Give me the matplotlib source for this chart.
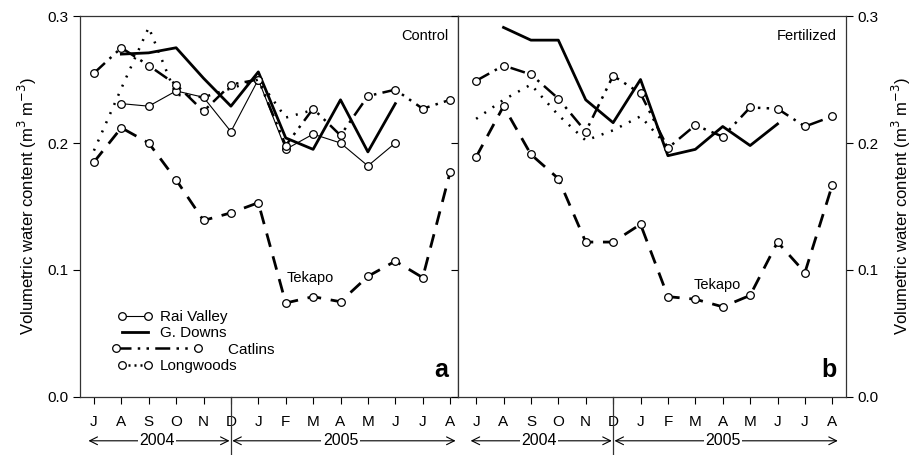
import numpy as np
import matplotlib
matplotlib.use('Agg')
import matplotlib.pyplot as plt
from matplotlib.lines import Line2D
from matplotlib.legend_handler import HandlerLine2D
from matplotlib.transforms import blended_transform_factory

plt.rcParams['font.family'] = ['Liberation Sans', 'DejaVu Sans']

# meses jul/2004 - ago/2005
meses = ['J', 'A', 'S', 'O', 'N', 'D', 'J', 'F', 'M', 'A', 'M', 'J', 'J', 'A']
nan = np.nan

# Control
rai_c = [nan, 0.231, 0.229, 0.241, 0.236, 0.209, 0.250, 0.195, 0.207, 0.200, 0.182, 0.200, nan, nan]
gdowns_c = [nan, 0.270, 0.271, 0.275, 0.251, 0.229, 0.256, 0.204, 0.195, 0.234, 0.193, 0.231, nan, nan]
catlins_c = [0.255, 0.275, 0.261, 0.246, 0.225, 0.246, 0.250, 0.198, 0.227, 0.206, 0.237, 0.242, 0.227, 0.234]
longwoods_c = [0.194, 0.243, 0.291, 0.238, 0.236, 0.243, 0.250, 0.220, 0.226, nan, nan, nan, nan, nan]
tekapo_c = [0.185, 0.212, 0.200, 0.171, 0.139, 0.145, 0.153, 0.074, 0.079, 0.075, 0.095, 0.107, 0.094, 0.177]

# Fertilized
gdowns_f = [nan, 0.291, 0.281, 0.281, 0.234, 0.216, 0.250, 0.190, 0.195, 0.213, 0.198, 0.215, nan, nan]
catlins_f = [0.249, 0.261, 0.254, 0.235, 0.209, 0.253, 0.239, 0.196, 0.214, 0.205, 0.228, 0.227, 0.213, 0.221]
longwoods_f = [0.219, 0.234, 0.246, 0.222, 0.202, 0.210, 0.221, 0.197, nan, nan, nan, nan, nan, nan]
tekapo_f = [0.189, 0.229, 0.191, 0.172, 0.122, 0.122, 0.136, 0.079, 0.077, 0.071, 0.080, 0.122, 0.098, 0.167]

x = np.arange(len(meses))

# estilos
circ = dict(marker='o', ms=5.5, mfc='white', mec='black', mew=0.9)
est_rai = dict(color='black', lw=0.8, **circ)
est_gd = dict(color='black', lw=2.0)
est_cat = dict(color='black', lw=1.8, dashes=(6, 2.5, 1, 2.5, 1, 2.5), **circ)
est_long = dict(color='black', lw=1.8, dashes=(0.8, 3.2))
est_tek = dict(color='black', lw=2.0, dashes=(5, 3.5), **circ)


# handle comprido do Catlins na legenda
class HandlerLongo(HandlerLine2D):
    def create_artists(self, legend, orig_handle, xdescent, ydescent, width, height, fontsize, trans):
        return super().create_artists(legend, orig_handle, xdescent + 4, ydescent,
                                      width * 2.6, height, fontsize, trans)


fig = plt.figure(figsize=(9.17, 4.55), dpi=100)
ax1 = fig.add_axes([0.0872, 0.1275, 0.4123, 0.8373])
ax2 = fig.add_axes([0.4995, 0.1275, 0.4231, 0.8373])


def painel(ax, dados, xlim):
    for serie, est in dados:
        ax.plot(x, serie, **est)
    ax.set_xlim(*xlim)
    ax.set_ylim(0, 0.3)
    ax.set_yticks([0.0, 0.1, 0.2, 0.3])
    ax.set_yticklabels(['0.0', '0.1', '0.2', '0.3'])
    ax.set_xticks(x)
    ax.set_xticklabels(meses)
    ax.tick_params(axis='x', direction='out', length=5, pad=8, labelsize=11)
    ax.tick_params(axis='y', direction='out', length=5, labelsize=11)
    for s in ax.spines.values():
        s.set_color('#333333')
        s.set_linewidth(0.9)
    tr = blended_transform_factory(ax.transData, ax.transAxes)
    # separador D
    ax.plot([5, 5], [0, -0.15], transform=tr, color='#333333', lw=0.9, clip_on=False)
    # anos
    yy = -0.115
    ax.annotate('', xy=(-0.2, yy), xytext=(4.95, yy), xycoords=tr, textcoords=tr,
                arrowprops=dict(arrowstyle='<->', color='black', lw=0.8,
                                shrinkA=0, shrinkB=0, mutation_scale=14))
    ax.annotate('', xy=(5.05, yy), xytext=(13.2, yy), xycoords=tr, textcoords=tr,
                arrowprops=dict(arrowstyle='<->', color='black', lw=0.8,
                                shrinkA=0, shrinkB=0, mutation_scale=14))
    ax.text(2.3, yy, '2004', transform=tr, ha='center', va='center', fontsize=11.5,
            bbox=dict(facecolor='white', edgecolor='none', pad=1))
    ax.text(9.0, yy, '2005', transform=tr, ha='center', va='center', fontsize=11.5,
            bbox=dict(facecolor='white', edgecolor='none', pad=1))


painel(ax1, [(rai_c, est_rai), (gdowns_c, est_gd), (catlins_c, est_cat),
             (longwoods_c, est_long), (tekapo_c, est_tek)], (-0.51, 13.29))
painel(ax2, [(gdowns_f, est_gd), (catlins_f, est_cat),
             (longwoods_f, est_long), (tekapo_f, est_tek)], (-0.66, 13.50))

ylabel = 'Volumetric water content (m$^3$ m$^{-3}$)'
ax1.set_ylabel(ylabel, fontsize=12, labelpad=6)
ax2.yaxis.tick_right()
ax2.yaxis.set_label_position('right')
ax2.tick_params(axis='y', left=True, labelleft=False)
ax2.set_ylabel(ylabel, fontsize=12, labelpad=8)

ax1.text(0.975, 0.965, 'Control', transform=ax1.transAxes, ha='right', va='top', fontsize=10.5)
ax2.text(0.975, 0.965, 'Fertilized', transform=ax2.transAxes, ha='right', va='top', fontsize=10.5)
ax1.text(7.9, 0.094, 'Tekapo', ha='center', va='center', fontsize=10.5)
ax2.text(8.8, 0.088, 'Tekapo', ha='center', va='center', fontsize=10.5)
ax1.text(0.975, 0.04, 'a', transform=ax1.transAxes, ha='right', va='bottom',
         fontsize=18, fontweight='bold')
ax2.text(0.975, 0.04, 'b', transform=ax2.transAxes, ha='right', va='bottom',
         fontsize=18, fontweight='bold')

h_rai = Line2D([], [], **est_rai)
h_gd = Line2D([], [], **est_gd)
h_cat = Line2D([], [], **est_cat)
h_long = Line2D([], [], color='black', lw=1.8, dashes=(0.8, 1.6), **circ)
ax1.legend([h_rai, h_gd, h_cat, h_long],
           ['Rai Valley', 'G. Downs', ' ' * 16 + 'Catlins', 'Longwoods'],
           handler_map={h_cat: HandlerLongo()}, numpoints=2,
           loc='lower left', bbox_to_anchor=(0.07, 0.035), frameon=False,
           fontsize=11, handlelength=2.3, labelspacing=0.15, handletextpad=0.5,
           borderpad=0.2)

fig.savefig('out.png', dpi=100)
